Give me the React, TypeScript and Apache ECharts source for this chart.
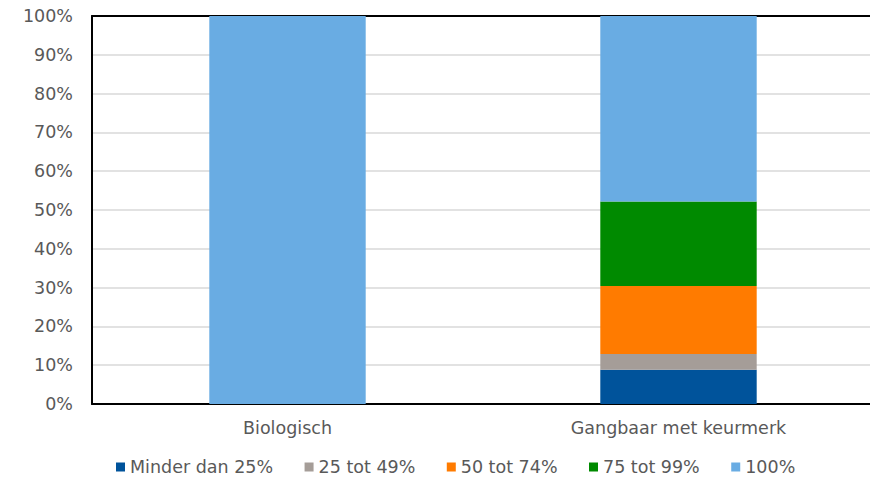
import React, { useEffect, useRef } from "react";
import * as echarts from "echarts";

const categories = ["Biologisch", "Gangbaar met keurmerk"];
const seriesNames = ["Minder dan 25%", "25 tot 49%", "50 tot 74%", "75 tot 99%", "100%"];
const minder25 = [0, 8.8];
const tot49 = [0, 4.1];
const tot74 = [0, 17.5];
const tot99 = [0, 21.8];
const full100 = [100, 47.8];
const colors = ["#00539b", "#a59d98", "#ff7b00", "#008a00", "#69ace3"];

const FONT = "DejaVu Sans";
const FS = 17.5;

export default function App() {
  const ref = useRef<HTMLDivElement>(null);
  useEffect(() => {
    if (!ref.current) return;
    const chart = echarts.init(ref.current, null, { renderer: "svg" });
    const data = [minder25, tot49, tot74, tot99, full100];
    chart.setOption({
      animation: false,
      textStyle: { fontFamily: FONT },
      grid: { left: 92, right: -4, top: 16, bottom: 74, outerBoundsMode: "none" },
      legend: {
        top: 458,
        left: 116,
        padding: 0,
        icon: "rect",
        itemWidth: 9,
        itemHeight: 9,
        itemGap: 31.5,
        textStyle: { fontFamily: FONT, fontSize: FS, color: "#595959" },
        data: seriesNames,
      },
      xAxis: [
        {
          type: "category",
          data: categories,
          axisLine: { show: true, lineStyle: { color: "#000", width: 2 } },
          axisTick: { show: false },
          axisLabel: { color: "#595959", fontSize: FS, fontFamily: FONT, margin: 15 },
        },
        {
          type: "category",
          position: "top",
          data: categories,
          axisLine: { show: true, lineStyle: { color: "#000", width: 2 } },
          axisTick: { show: false },
          axisLabel: { show: false },
        },
      ],
      yAxis: {
        type: "value",
        min: 0,
        max: 100,
        interval: 10,
        axisLine: { show: true, lineStyle: { color: "#000", width: 2 } },
        axisTick: { show: false },
        axisLabel: { formatter: "{value}%", color: "#595959", fontSize: FS, fontFamily: FONT, margin: 19 },
        splitLine: { lineStyle: { color: "#d9d9d9", width: 1.5 } },
      },
      series: seriesNames.map((name, i) => ({
        name,
        type: "bar",
        stack: "total",
        barWidth: "40%",
        data: data[i],
        itemStyle: { color: colors[i] },
      })),
    });
    return () => chart.dispose();
  }, []);
  return (
    <div
      ref={ref}
      style={{ position: "absolute", left: 0, top: 0, width: 870, height: 478 }}
    />
  );
}
